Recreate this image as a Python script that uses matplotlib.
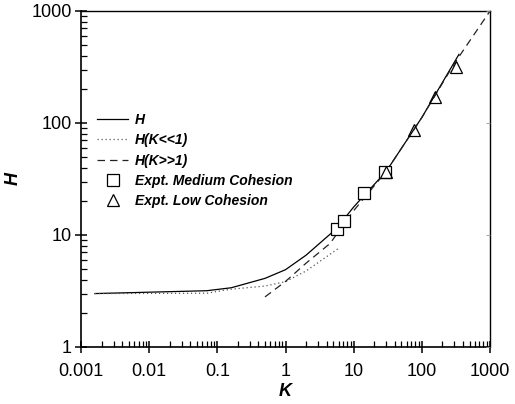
import matplotlib
matplotlib.use("Agg")
import matplotlib.pyplot as plt
from matplotlib.ticker import LogLocator, NullFormatter, FixedLocator

plt.rcParams['font.family'] = ['Liberation Sans', 'DejaVu Sans']

# --- data ---
k_full = [0.0016, 0.07, 0.16, 0.5, 1.0, 2.0, 5.5, 10, 30, 100, 350]
h_full = [3.0, 3.18, 3.38, 4.1, 4.9, 6.6, 11.3, 17.8, 37, 112, 410]

k_small = [0.0016, 0.07, 0.15, 0.5, 1.0, 2.0, 6.0]
h_small = [3.0, 3.02, 3.27, 3.5, 3.83, 4.77, 7.6]

k_large = [0.5, 1.0, 2.0, 4.5, 10, 30, 100, 300, 1000]
h_large = [2.8, 3.85, 5.6, 8.4, 16.5, 37, 112, 340, 1000]

k_med = [5.7, 7.2, 14.3, 28.7]
h_med = [11.2, 13.4, 23.6, 36.3]

k_low = [29.5, 76, 157, 316]
h_low = [36.5, 87, 170, 318]

x_ticks = [0.001, 0.01, 0.1, 1, 10, 100, 1000]
x_labels = ["0.001", "0.01", "0.1", "1", "10", "100", "1000"]
y_ticks = [1, 10, 100, 1000]
y_labels = ["1", "10", "100", "1000"]

fig = plt.figure(figsize=(5.15, 4.04), dpi=100)
ax = fig.add_axes([0.1573, 0.1411, 0.7942, 0.8317])

ax.plot(k_full, h_full, color='black', lw=0.9, ls='-', label='H')
ax.plot(k_small, h_small, color='#555555', lw=0.9, ls=(0, (1, 2.2)), label='H(K<<1)')
ax.plot(k_large, h_large, color='#222222', lw=0.9, ls=(0, (6, 4)), label='H(K>>1)')
ax.plot(k_med, h_med, ls='none', marker='s', ms=8, mfc='white', mec='black',
        mew=0.9, label='Expt. Medium Cohesion')
ax.plot(k_low, h_low, ls='none', marker='^', ms=9, mfc='none', mec='black',
        mew=0.9, label='Expt. Low Cohesion')

ax.set_xscale('log')
ax.set_yscale('log')
ax.set_xlim(0.001, 1000)
ax.set_ylim(1, 1000)

ax.xaxis.set_major_locator(FixedLocator(x_ticks))
ax.set_xticklabels(x_labels)
ax.yaxis.set_major_locator(FixedLocator(y_ticks))
ax.set_yticklabels(y_labels)
ax.xaxis.set_minor_locator(LogLocator(base=10, subs=range(2, 10), numticks=20))
ax.yaxis.set_minor_locator(LogLocator(base=10, subs=range(2, 10), numticks=20))
ax.xaxis.set_minor_formatter(NullFormatter())
ax.yaxis.set_minor_formatter(NullFormatter())

ax.tick_params(which='major', direction='inout', length=9, width=1.1,
               labelsize=13, top=False, right=False)
ax.tick_params(axis='x', which='major', pad=7)
ax.tick_params(axis='y', which='major', pad=2)
ax.tick_params(which='minor', direction='in', length=4, width=0.9,
               top=False, right=False)

for s in ax.spines.values():
    s.set_linewidth(1.2)
ax.spines['top'].set_linewidth(1.0)
ax.spines['right'].set_linewidth(1.0)

# faint inward ticks on the right spine
twin = ax.twinx()
twin.set_yscale('log')
twin.set_ylim(1, 1000)
twin.yaxis.set_major_locator(FixedLocator(y_ticks))
twin.yaxis.set_minor_locator(FixedLocator([]))
twin.tick_params(axis='y', direction='in', length=3, width=0.6, color='#999999',
                 labelright=False)
for s in twin.spines.values():
    s.set_visible(False)

ax.set_xlabel('K', fontsize=13, fontweight='bold', style='italic', labelpad=2)
ax.set_ylabel('H', fontsize=13, fontweight='bold', style='italic', labelpad=7)

ax.legend(loc='upper left', bbox_to_anchor=(0.04, 0.697), frameon=False,
          prop={'size': 10, 'weight': 'bold', 'style': 'italic'},
          borderpad=0, handlelength=2.2, handletextpad=0.5, labelspacing=0.46,
          borderaxespad=0)

fig.savefig('out.png', dpi=100)
